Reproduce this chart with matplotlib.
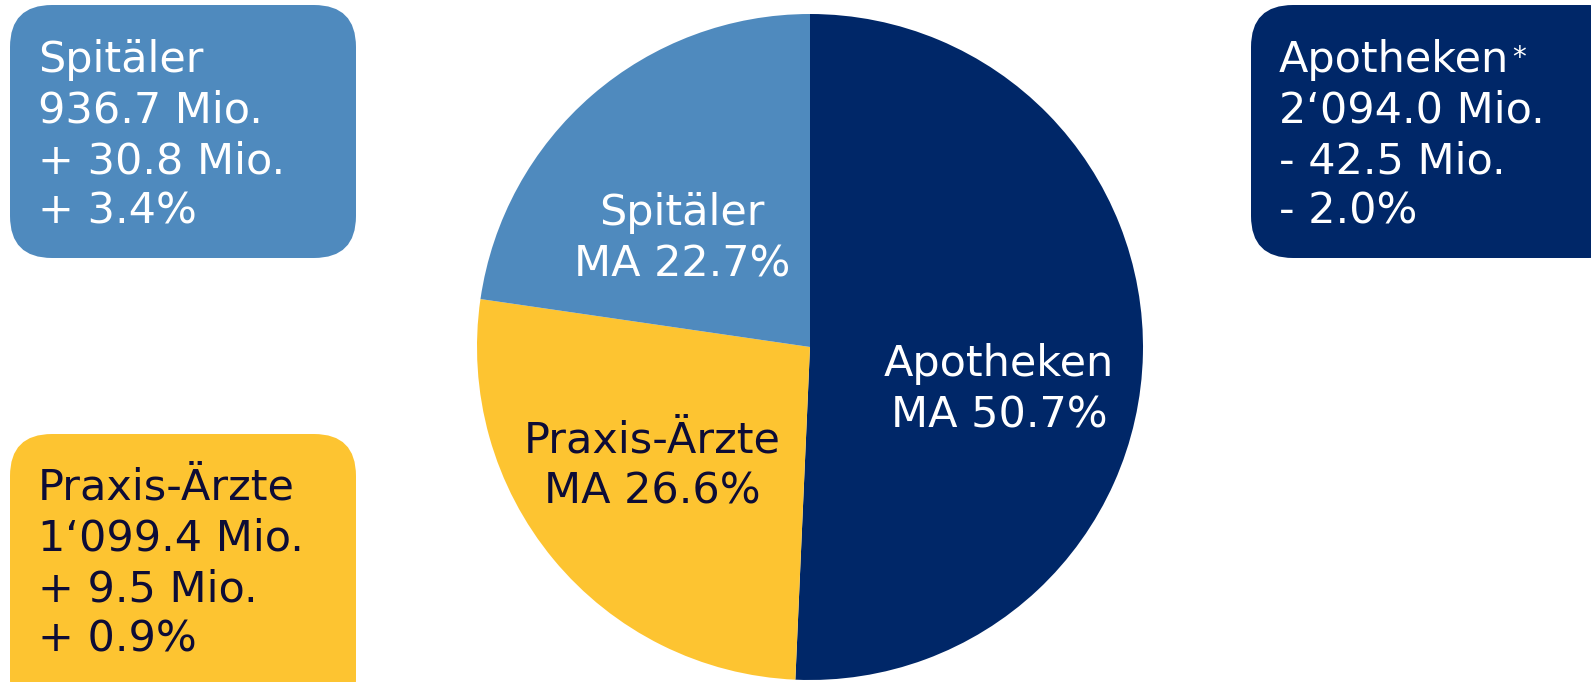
import matplotlib
matplotlib.use("Agg")
import matplotlib.pyplot as plt
from matplotlib.patches import FancyBboxPatch

# market shares (MA) per channel
channels = ["Apotheken", "Praxis-Ärzte", "Spitäler"]
shares = [50.7, 26.6, 22.7]
colors = ["#002768", "#FDC431", "#4F8ABE"]

# box figures: turnover, change abs, change rel
box_lines = {
    "Spitäler": ["Spitäler", "936.7 Mio.", "+ 30.8 Mio.", "+ 3.4%"],
    "Apotheken": ["Apotheken", "2‘094.0 Mio.", "- 42.5 Mio.", "- 2.0%"],
    "Praxis-Ärzte": ["Praxis-Ärzte", "1‘099.4 Mio.", "+ 9.5 Mio.", "+ 0.9%"],
}

W, H = 1591, 682
fig = plt.figure(figsize=(W / 100, H / 100), dpi=100)
ax = fig.add_axes([0, 0, 1, 1])
ax.set_xlim(0, W)
ax.set_ylim(0, H)
ax.set_aspect("equal")
ax.axis("off")

cx, cy, r = 810, 335, 333
ax.pie(shares, colors=colors, startangle=90, counterclock=False,
       center=(cx, cy), radius=r, wedgeprops=dict(linewidth=0))
ax.set_xlim(0, W)
ax.set_ylim(0, H)

fs = 31
label_pos = {"Spitäler": (682, 443), "Apotheken": (999, 292), "Praxis-Ärzte": (652, 216)}
label_col = {"Spitäler": "white", "Apotheken": "white", "Praxis-Ärzte": "#0D0C36"}
for name, s in zip(channels, shares):
    x, y = label_pos[name]
    ax.text(x, y, f"{name}\nMA {s:.1f}%", ha="center", va="center",
            fontsize=fs, color=label_col[name], linespacing=1.3)

# rounded info boxes: x0, y0, w, h, first baseline (pixels from bottom)
boxes = {
    "Spitäler": (10, 424, 346, 253, H - 72),
    "Apotheken": (1251, 424, 380, 253, H - 72),
    "Praxis-Ärzte": (10, -40, 346, 288, H - 500),
}
box_col = {"Spitäler": "#4F8ABE", "Apotheken": "#002768", "Praxis-Ärzte": "#FDC431"}
step = 50.5
for name, (x0, y0, bw, bh, base) in boxes.items():
    ax.add_patch(FancyBboxPatch((x0, y0), bw, bh,
                                boxstyle="round,pad=0,rounding_size=42",
                                facecolor=box_col[name], edgecolor="none"))
    for i, line in enumerate(box_lines[name]):
        ax.text(x0 + 28, base - i * step, line, ha="left", va="baseline",
                fontsize=fs, color=label_col[name])

# footnote marker next to "Apotheken"
ax.text(1512, H - 58, "*", ha="left", va="center", fontsize=20, color="white")

fig.savefig("out.png", dpi=100)
